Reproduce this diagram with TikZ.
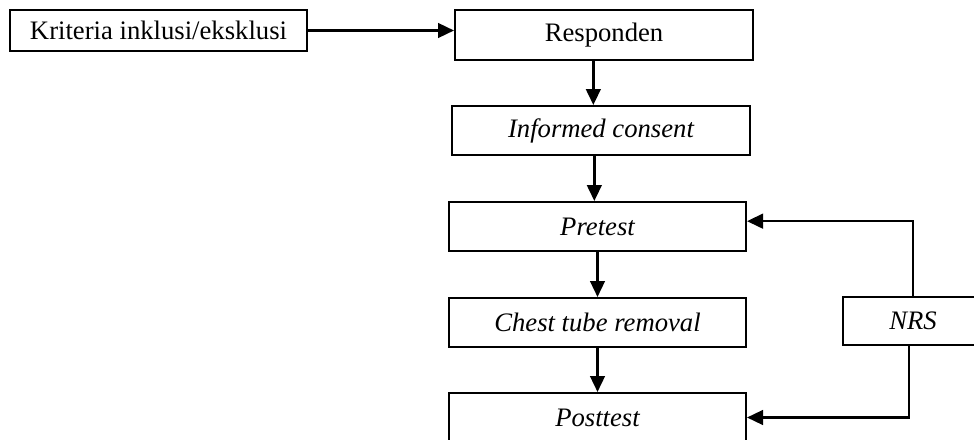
\documentclass[tikz,border=0pt]{standalone}
\usepackage{fontspec}
\setmainfont{Liberation Serif}
\usetikzlibrary{arrows.meta}

\begin{document}
\begin{tikzpicture}[x=0.75pt, y=-0.75pt,
  box/.style={draw, line width=1.5pt, inner sep=0pt, minimum width=222.75pt, minimum height=36.75pt, font=\fontsize{20}{24}\selectfont},
  flow/.style={line width=1.8pt, -{Triangle[length=12pt,width=11pt]}}]
\useasboundingbox (0,0) rectangle (974,439);
\node[box, minimum height=30.75pt] (kriteria) at (158.5,30.5) {Kriteria inklusi/eksklusi};
\node[box, minimum width=223.5pt, minimum height=37.5pt] (responden) at (604,35) {Responden};
\node[box, minimum width=223.5pt] (informed) at (601,130.5) {\itshape Informed consent};
\node[box] (pretest) at (597.5,226.5) {\itshape Pretest};
\node[box] (chest) at (597.5,322.5) {\itshape Chest tube removal};
\node[box] (posttest) at (597.5,417.5) {\itshape Posttest};
\node[box, minimum width=105pt, minimum height=36pt] (nrs) at (913,321) {\itshape NRS};
\draw[flow] (kriteria.east) -- (kriteria.east -| responden.west);
\draw[flow] ([xshift=-8pt]responden.south) -- ([xshift=-8pt]responden.south |- informed.north);
\draw[flow] ([xshift=-5pt]informed.south) -- ([xshift=-5pt]informed.south |- pretest.north);
\draw[flow] (pretest.south) -- (chest.north);
\draw[flow] (chest.south) -- (posttest.north);
\draw[flow] (nrs.north) |- ([yshift=4pt]pretest.east);
\draw[flow] ([xshift=-3pt]nrs.south) |- (posttest.east);
\end{tikzpicture}
\end{document}
